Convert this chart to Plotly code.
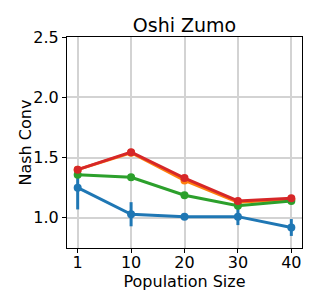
import plotly.graph_objects as go

pop_sizes = ["1", "10", "20", "30", "40"]
blue_vals = [1.25, 1.03, 1.01, 1.01, 0.92]
blue_err = [0.18, 0.10, 0.02, 0.07, 0.07]
orange_vals = [1.40, 1.54, 1.31, 1.13, 1.155]
orange_err = [0.01, 0.01, 0.02, 0.01, 0.01]
green_vals = [1.357, 1.337, 1.188, 1.10, 1.14]
green_err = [0.01, 0.01, 0.01, 0.01, 0.01]
red_vals = [1.40, 1.545, 1.33, 1.14, 1.163]
red_err = [0.01, 0.01, 0.01, 0.01, 0.01]

series = [
    (blue_vals, blue_err, "#1f77b4"),
    (orange_vals, orange_err, "#ff7f0e"),
    (green_vals, green_err, "#2ca02c"),
    (red_vals, red_err, "#d62728"),
]

fig = go.Figure()
for vals, err, col in series:
    fig.add_trace(go.Scatter(
        x=pop_sizes, y=vals, mode="lines+markers",
        line=dict(color=col, width=3),
        marker=dict(color=col, size=8),
        error_y=dict(type="data", array=err, visible=True, color=col, thickness=3, width=0),
        showlegend=False,
    ))

font = "DejaVu Sans"
fig.update_layout(
    width=311, height=298,
    margin=dict(l=59, r=17, t=29, b=58, autoexpand=False),
    paper_bgcolor="white", plot_bgcolor="white",
    title=dict(text="Oshi Zumo", x=0.5, xanchor="center", xref="paper",
               y=1, yref="paper", yanchor="bottom", pad=dict(b=5),
               font=dict(family=font, size=19, color="black")),
    font=dict(family=font, size=16, color="black"),
    annotations=[dict(
        text="Nash Conv", textangle=-90, showarrow=False,
        xref="paper", yref="paper", x=-42 / 235, y=0.5,
        xanchor="center", yanchor="middle",
        font=dict(family=font, size=16, color="black"),
    )],
)
fig.update_xaxes(
    type="category", range=[-0.2, 4.2],
    showline=True, linecolor="black", linewidth=1, mirror=True,
    showgrid=True, gridcolor="#d3d3d3", gridwidth=1.5,
    ticks="outside", ticklen=4, tickcolor="black", ticklabelstandoff=-4,
    tickfont=dict(family=font, size=16, color="black"),
    title=dict(text="Population Size", font=dict(family=font, size=16, color="black"), standoff=1),
)
fig.update_yaxes(
    range=[0.75, 2.5], tickvals=[1.0, 1.5, 2.0, 2.5], ticktext=["1.0", "1.5", "2.0", "2.5"],
    showline=True, linecolor="black", linewidth=1, mirror=True,
    showgrid=True, gridcolor="#d3d3d3", gridwidth=1.5, zeroline=False,
    ticks="outside", ticklen=4, tickcolor="black",
    tickfont=dict(family=font, size=16, color="black"),
)
fig.write_html("out.html")
